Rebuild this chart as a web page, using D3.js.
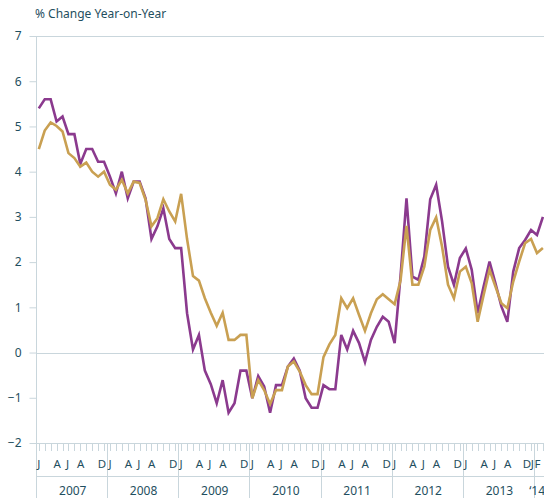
<!DOCTYPE html>
<html><head><meta charset="utf-8">
<script src="https://cdn.jsdelivr.net/npm/d3@7"></script>
<style>
html,body{margin:0;padding:0;background:#fff;}
svg{display:block;font-family:"Noto Sans","Open Sans",sans-serif;}
</style></head>
<body><svg id="c" width="544" height="498"></svg>
<script>
// Monthly, Jan 2007 .. Feb 2014
const startYear = 2007;
const purpleSeries = [
 5.40,5.60,5.60,5.11,5.22,4.83,4.83,4.17,4.50,4.50,4.22,4.22,
 3.89,3.52,4.00,3.41,3.78,3.78,3.41,2.51,2.79,3.19,2.51,2.31,
 2.31,0.87,0.07,0.39,-0.40,-0.70,-1.12,-0.61,-1.33,-1.12,-0.40,-0.40,
 -1.01,-0.52,-0.75,-1.33,-0.72,-0.72,-0.31,-0.13,-0.40,-1.01,-1.22,-1.22,
 -0.72,-0.81,-0.81,0.39,0.07,0.48,0.21,-0.21,0.28,0.57,0.79,0.68,
 0.21,1.70,3.41,1.68,1.61,2.12,3.39,3.71,2.90,1.90,1.50,2.09,
 2.30,1.83,0.87,1.46,2.01,1.53,1.02,0.68,1.79,2.31,2.49,2.71,
 2.60,3.00
];
const goldSeries = [
 4.50,4.91,5.09,5.01,4.89,4.41,4.30,4.11,4.20,4.00,3.89,4.00,
 3.71,3.60,3.82,3.52,3.78,3.75,3.38,2.79,2.97,3.39,3.12,2.90,
 3.51,2.51,1.69,1.59,1.20,0.88,0.59,0.88,0.28,0.28,0.39,0.39,
 -1.01,-0.61,-0.83,-1.14,-0.83,-0.83,-0.31,-0.20,-0.42,-0.72,-0.92,-0.92,
 -0.10,0.18,0.39,1.20,0.98,1.20,0.83,0.48,0.87,1.18,1.29,1.18,
 1.07,1.60,2.80,1.50,1.50,1.90,2.71,2.99,2.34,1.50,1.20,1.79,
 1.90,1.53,0.68,1.27,1.83,1.46,1.09,0.98,1.57,2.01,2.42,2.51,
 2.20,2.31
];
const yTicks = [-2,-1,0,1,2,3,4,5,6,7];
const yearLabels = ["2007","2008","2009","2010","2011","2012","2013","\u201814"];
const monthLetters = ["J","A","J","A","D"];
const lastYearLetters = ["D","J","F"];
const yTitle = "% Change Year-on-Year";

const W = 544, H = 498;
const textCol = "#1f4f60", lineCol = "#c9d6dc";
const svg = d3.select("#c");
const n = purpleSeries.length;
const x = d3.scaleLinear().domain([0, n-1]).range([38.8, 542.9]);
const y = d3.scaleLinear().domain([-2, 7]).range([443, 36]);
const axisX = 36.5;

// title
svg.append("text").attr("x", 35).attr("y", 18).attr("fill", textCol)
  .attr("font-size", 12).text(yTitle);

// horizontal lines: top, zero, bottom
[7, 0, -2].forEach(v => {
  svg.append("line").attr("x1", axisX).attr("x2", W).attr("y1", Math.round(y(v))+0.5).attr("y2", Math.round(y(v))+0.5)
    .attr("stroke", lineCol).attr("stroke-width", 1);
});

// y axis
const yAxis = d3.axisLeft(y).tickValues(yTicks).tickSize(7).tickPadding(8).tickFormat(d3.format("d"));
const ga = svg.append("g").attr("transform", `translate(${axisX},0)`).call(yAxis);
ga.select(".domain").remove();
ga.selectAll(".tick line").attr("stroke", lineCol);
ga.selectAll(".tick text").attr("fill", textCol).attr("font-size", 12)
  .attr("font-family", '"Noto Sans","Open Sans",sans-serif');
svg.append("line").attr("x1", axisX).attr("x2", axisX).attr("y1", y(7)).attr("y2", H)
  .attr("stroke", lineCol).attr("stroke-width", 1);

// month ticks
const months = d3.range(n);
svg.append("g").selectAll("line").data(months).join("line")
  .attr("x1", d => Math.round(x(d))+0.5).attr("x2", d => Math.round(x(d))+0.5)
  .attr("y1", 444).attr("y2", 451).attr("stroke", lineCol).attr("stroke-width", 1);

// horizontal separator between months and years
svg.append("line").attr("x1", axisX).attr("x2", W).attr("y1", 476.5).attr("y2", 476.5)
  .attr("stroke", lineCol);

// year separators
const nYears = yearLabels.length;
d3.range(1, nYears).forEach(k => {
  const xs = Math.round(x(k*12 - 0.5)) + 0.5;
  svg.append("line").attr("x1", xs).attr("x2", xs).attr("y1", 443).attr("y2", H).attr("stroke", lineCol);
});

// month letters
const letterPos = [0, 3.1, 4.85, 7.05, 10.65];
const lastPos = [-0.7, 0.2, 1.1];
const mg = svg.append("g").attr("fill", textCol).attr("font-size", 11.5).attr("text-anchor", "middle");
for (let k = 0; k < nYears - 1; k++) {
  const base = k*12;
  const lets = (k === nYears - 2) ? monthLetters.slice(0,4) : monthLetters;
  lets.forEach((l, j) => {
    mg.append("text").attr("x", x(base + letterPos[j])).attr("y", 468).text(l);
  });
}
lastYearLetters.forEach((l, j) => {
  mg.append("text").attr("x", x(83 + lastPos[j])).attr("y", 468).text(l);
});

// year labels
const yg = svg.append("g").attr("fill", textCol).attr("font-size", 12).attr("text-anchor", "middle");
yearLabels.forEach((l, k) => {
  const x0 = k === 0 ? axisX : x(k*12 - 0.5);
  const x1 = Math.min(x((k+1)*12 - 0.5), W);
  if (k === nYears - 1) {
    yg.append("text").attr("x", W + 1).attr("text-anchor", "end").attr("y", 495).text(l);
  } else {
    yg.append("text").attr("x", (x0 + x1)/2 + 1).attr("y", 495).text(l);
  }
});

// lines
const line = d3.line().x((d, i) => x(i)).y(d => y(d));
svg.append("path").datum(purpleSeries).attr("d", line).attr("fill", "none")
  .attr("stroke", "#8b3a8e").attr("stroke-width", 2.6).attr("stroke-linejoin", "miter");
svg.append("path").datum(goldSeries).attr("d", line).attr("fill", "none")
  .attr("stroke", "#c9a052").attr("stroke-width", 2.6).attr("stroke-linejoin", "miter");
</script></body></html>
